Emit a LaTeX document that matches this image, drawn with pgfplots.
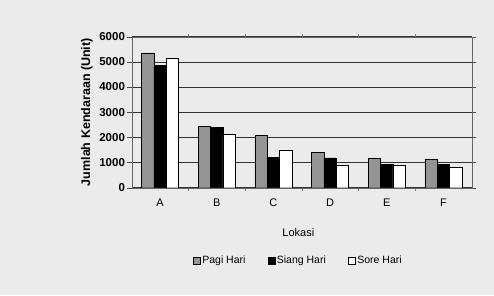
\documentclass[border=0pt]{standalone}
\usepackage{pgfplots}
\pgfplotsset{compat=1.18}
\usepackage{fontspec}
\setmainfont{Liberation Sans}
\begin{document}
\begin{tikzpicture}[x=1pt,y=1pt]
\fill[black!8] (0,0) rectangle (494,295);
\useasboundingbox (0,0) rectangle (494,295);
\begin{axis}[
  at={(131.7pt,107.3pt)}, anchor=south west,
  scale only axis, width=340pt, height=151pt,
  xmin=-0.5, xmax=5.5, ymin=0, ymax=6000,
  ybar=0pt, bar width=12.4pt,
  xtick={0,1,2,3,4,5}, xticklabels={A,B,C,D,E,F},
  major x tick style={draw=none},
  minor xtick={0.5,1.5,2.5,3.5,4.5},
  minor tick length=3pt,
  tick align=outside,
  ytick={0,1000,...,6000},
  ymajorgrids, grid style={black!80, line width=0.7pt},
  axis line style={black!60},
  ytick style={black!70},
  /pgf/number format/assume math mode=true,
  /pgf/number format/1000 sep={},
  yticklabel style={font=\bfseries\fontsize{11.5}{13}\selectfont, xshift=1pt},
  xticklabel style={font=\fontsize{11}{13}\selectfont, yshift=-3pt},
  ylabel={Jumlah Kendaraan (Unit)},
  ylabel style={font=\bfseries\fontsize{12.5}{14}\selectfont, at={(axis description cs:-0.132,0.5)}, anchor=center},
  xlabel={Lokasi},
  xlabel style={font=\fontsize{11}{13}\selectfont, at={(axis description cs:0.49,-0.296)}, anchor=center},
  legend columns=3,
  legend style={draw=none, fill=none, at={(0.49,-0.483)}, anchor=center,
    font=\fontsize{10.5}{12}\selectfont, /tikz/every even column/.append style={column sep=20pt}},
  legend image code/.code={\draw[#1] (0pt,-3.5pt) rectangle (7pt,3.5pt);},
]
\addplot[fill=black!42, draw=black] coordinates {(0,5360) (1,2450) (2,2090) (3,1400) (4,1180) (5,1130)};
\addplot[fill=black, draw=black] coordinates {(0,4850) (1,2410) (2,1210) (3,1190) (4,930) (5,930)};
\addplot[fill=white, draw=black] coordinates {(0,5160) (1,2130) (2,1500) (3,900) (4,890) (5,810)};
\legend{Pagi Hari, Siang Hari, Sore Hari}
\end{axis}
\end{tikzpicture}
\end{document}
